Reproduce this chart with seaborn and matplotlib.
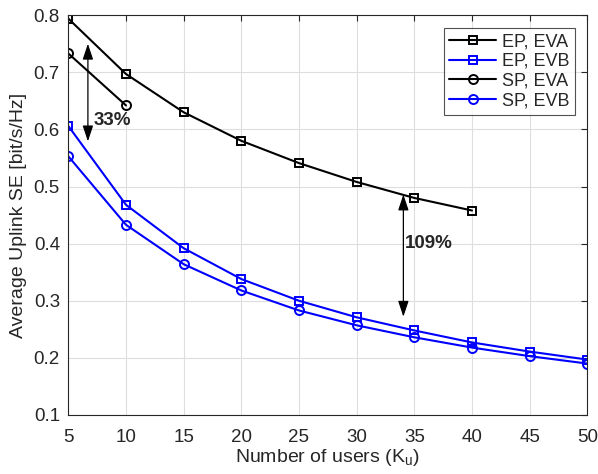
import matplotlib
matplotlib.use("Agg")
import matplotlib.pyplot as plt
import seaborn as sns
import pandas as pd

users = [5, 10, 15, 20, 25, 30, 35, 40, 45, 50]
ep_eva_x = [5, 10, 15, 20, 25, 30, 35, 40]
ep_eva = [0.794, 0.697, 0.630, 0.580, 0.541, 0.508, 0.480, 0.458]
ep_evb = [0.606, 0.468, 0.392, 0.338, 0.300, 0.271, 0.248, 0.227, 0.211, 0.197]
sp_eva_x = [5, 10]
sp_eva = [0.733, 0.642]
sp_evb = [0.553, 0.433, 0.364, 0.318, 0.283, 0.257, 0.236, 0.218, 0.203, 0.190]

labels = ["EP, EVA", "EP, EVB", "SP, EVA", "SP, EVB"]

sns.set_style("white")
plt.rcParams['font.family'] = ['Liberation Sans', 'DejaVu Sans']

fig = plt.figure(figsize=(5.98, 4.74), dpi=100)
ax = fig.add_axes([0.1142, 0.1245, 0.868, 0.8435])

series = [
    (ep_eva_x, ep_eva, labels[0], 'black', 's'),
    (users, ep_evb, labels[1], 'blue', 's'),
    (sp_eva_x, sp_eva, labels[2], 'black', 'o'),
    (users, sp_evb, labels[3], 'blue', 'o'),
]
for x, y, lab, c, m in series:
    df = pd.DataFrame({'x': x, 'y': y})
    ms = 5.5 if m == 's' else 6.5
    sns.lineplot(data=df, x='x', y='y', ax=ax, color=c, marker=m, markersize=ms,
                 markerfacecolor='none', markeredgecolor=c, markeredgewidth=1.4,
                 linewidth=1.5, label=lab)

ax.set_xlim(5, 50)
ax.set_ylim(0.1, 0.8)
ax.set_xticks(range(5, 51, 5))
ax.set_yticks([0.1, 0.2, 0.3, 0.4, 0.5, 0.6, 0.7, 0.8])
ax.set_yticklabels(['0.1', '0.2', '0.3', '0.4', '0.5', '0.6', '0.7', '0.8'])
ax.grid(True, color='#dedede', linewidth=0.8)
ax.tick_params(direction='in', top=True, right=True, labelsize=13.5, colors='#262626', length=4)
ax.tick_params(axis='x', pad=10)
ax.tick_params(axis='y', pad=6)
for s in ax.spines.values():
    s.set_color('#262626')
    s.set_linewidth(0.8)
ax.set_xlabel('Number of users (K$_\\mathregular{u}$)', fontsize=14, color='#262626', labelpad=1)
ax.set_ylabel('Average Uplink SE [bit/s/Hz]', fontsize=14, color='#262626', labelpad=5)

leg = ax.legend(loc='upper right', fontsize=13, frameon=True, fancybox=False,
                edgecolor='#262626', borderpad=0.3, labelspacing=0.15, handlelength=2.6,
                handletextpad=0.3, borderaxespad=0.7)
leg.get_frame().set_linewidth(0.8)

head = dict(arrowstyle='<|-|>,head_length=0.6,head_width=0.2', color='black',
            lw=0.9, mutation_scale=16, shrinkA=0, shrinkB=0)
ax.annotate('', xy=(6.7, 0.750), xytext=(6.7, 0.579), arrowprops=head)
ax.text(7.2, 0.615, '33%', fontsize=13.5, fontweight='bold', va='center', ha='left')
ax.annotate('', xy=(34.05, 0.486), xytext=(34.05, 0.272), arrowprops=head)
ax.text(34.2, 0.40, '109%', fontsize=13.5, fontweight='bold', va='center', ha='left')

fig.savefig('out.png', dpi=100)
